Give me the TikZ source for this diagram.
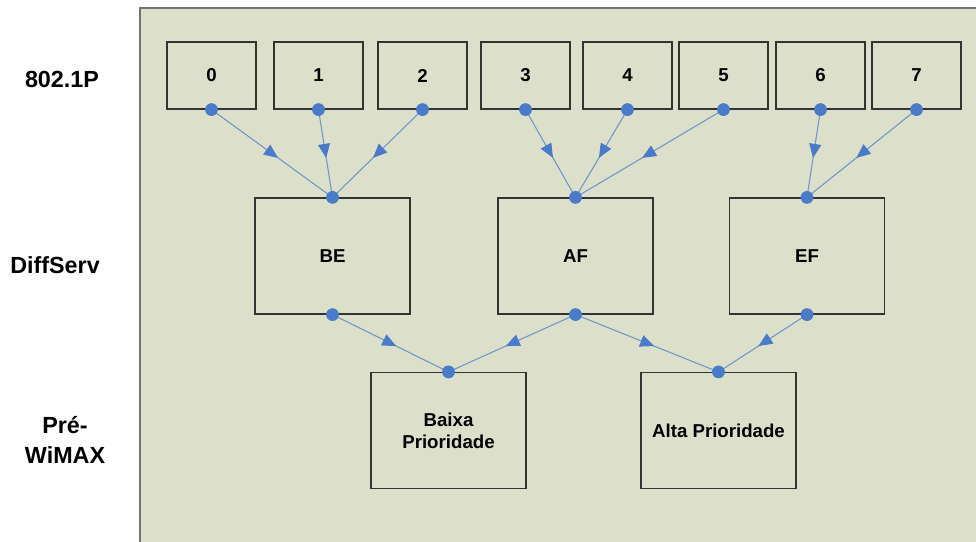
\documentclass[tikz,border=0pt]{standalone}
\usepackage{fontspec}
\setmainfont{Liberation Sans}
\usetikzlibrary{arrows.meta}
\usetikzlibrary{decorations.markings}
\definecolor{panel}{HTML}{DCE0CA}
\definecolor{link}{HTML}{7096C8}
\definecolor{dot}{HTML}{4A7BC8}

\begin{document}
\begin{tikzpicture}[x=0.75pt,y=-0.75pt,
	prio/.style={draw=black!80,line width=0.9pt,font=\fontsize{14}{16.5}\selectfont\bfseries,align=center,inner sep=0pt},
	small/.style={prio,minimum width=66.75pt,minimum height=50.25pt},
	big/.style={prio,minimum width=116.25pt,minimum height=87pt},
	layer/.style={font=\fontsize{17.5}{23}\selectfont\bfseries,align=center},
	link/.style={color=link,line width=0.8pt,postaction={decorate},
		decoration={markings,mark=at position 0.55 with {\arrow[dot]{Triangle[length=10.5pt,width=9pt]}}}}]
			\useasboundingbox (0,0) rectangle (976,542);
			\fill[panel] (140,8) rectangle (976,542);
			\draw[black!55,line width=1.2pt] (140,542)--(140,8)--(976,8);

			\node[layer] (l1) at (62,79) {802.1P};
			\node[layer] (l2) at (55,265) {DiffServ};
			\node[layer] (l3) at (65,440) {Pré-\\WiMAX};

			\foreach \i/\x in {0/211.5,1/318.5,2/422.5,3/525.5,4/627.5,5/723.5,6/820.5,7/916.5}
				\node[small] (p\i) at (\x,75.5) {\i};

			\node[big] (be) at (332.5,256) {BE};
			\node[big] (af) at (575.5,256) {AF};
			\node[big] (ef) at (807,256) {EF};

			\node[big] (lo) at (448.5,430.5) {Baixa\\Prioridade};
			\node[big] (hi) at (718.5,430.5) {Alta Prioridade};

			\foreach \i/\c in {0/be,1/be,2/be,3/af,4/af,5/af,6/ef,7/ef}
				\draw[link] (p\i.south)--(\c.north);
			\foreach \c/\d in {be/lo,af/lo,af/hi,ef/hi}
				\draw[link] (\c.south)--(\d.north);

			\foreach \n in {p0,p1,p2,p3,p4,p5,p6,p7,be,af,ef}
				\fill[dot] (\n.south) circle (4.8pt);
			\foreach \n in {be,af,ef,lo,hi}
				\fill[dot] (\n.north) circle (4.8pt);
		\end{tikzpicture}
\end{document}
